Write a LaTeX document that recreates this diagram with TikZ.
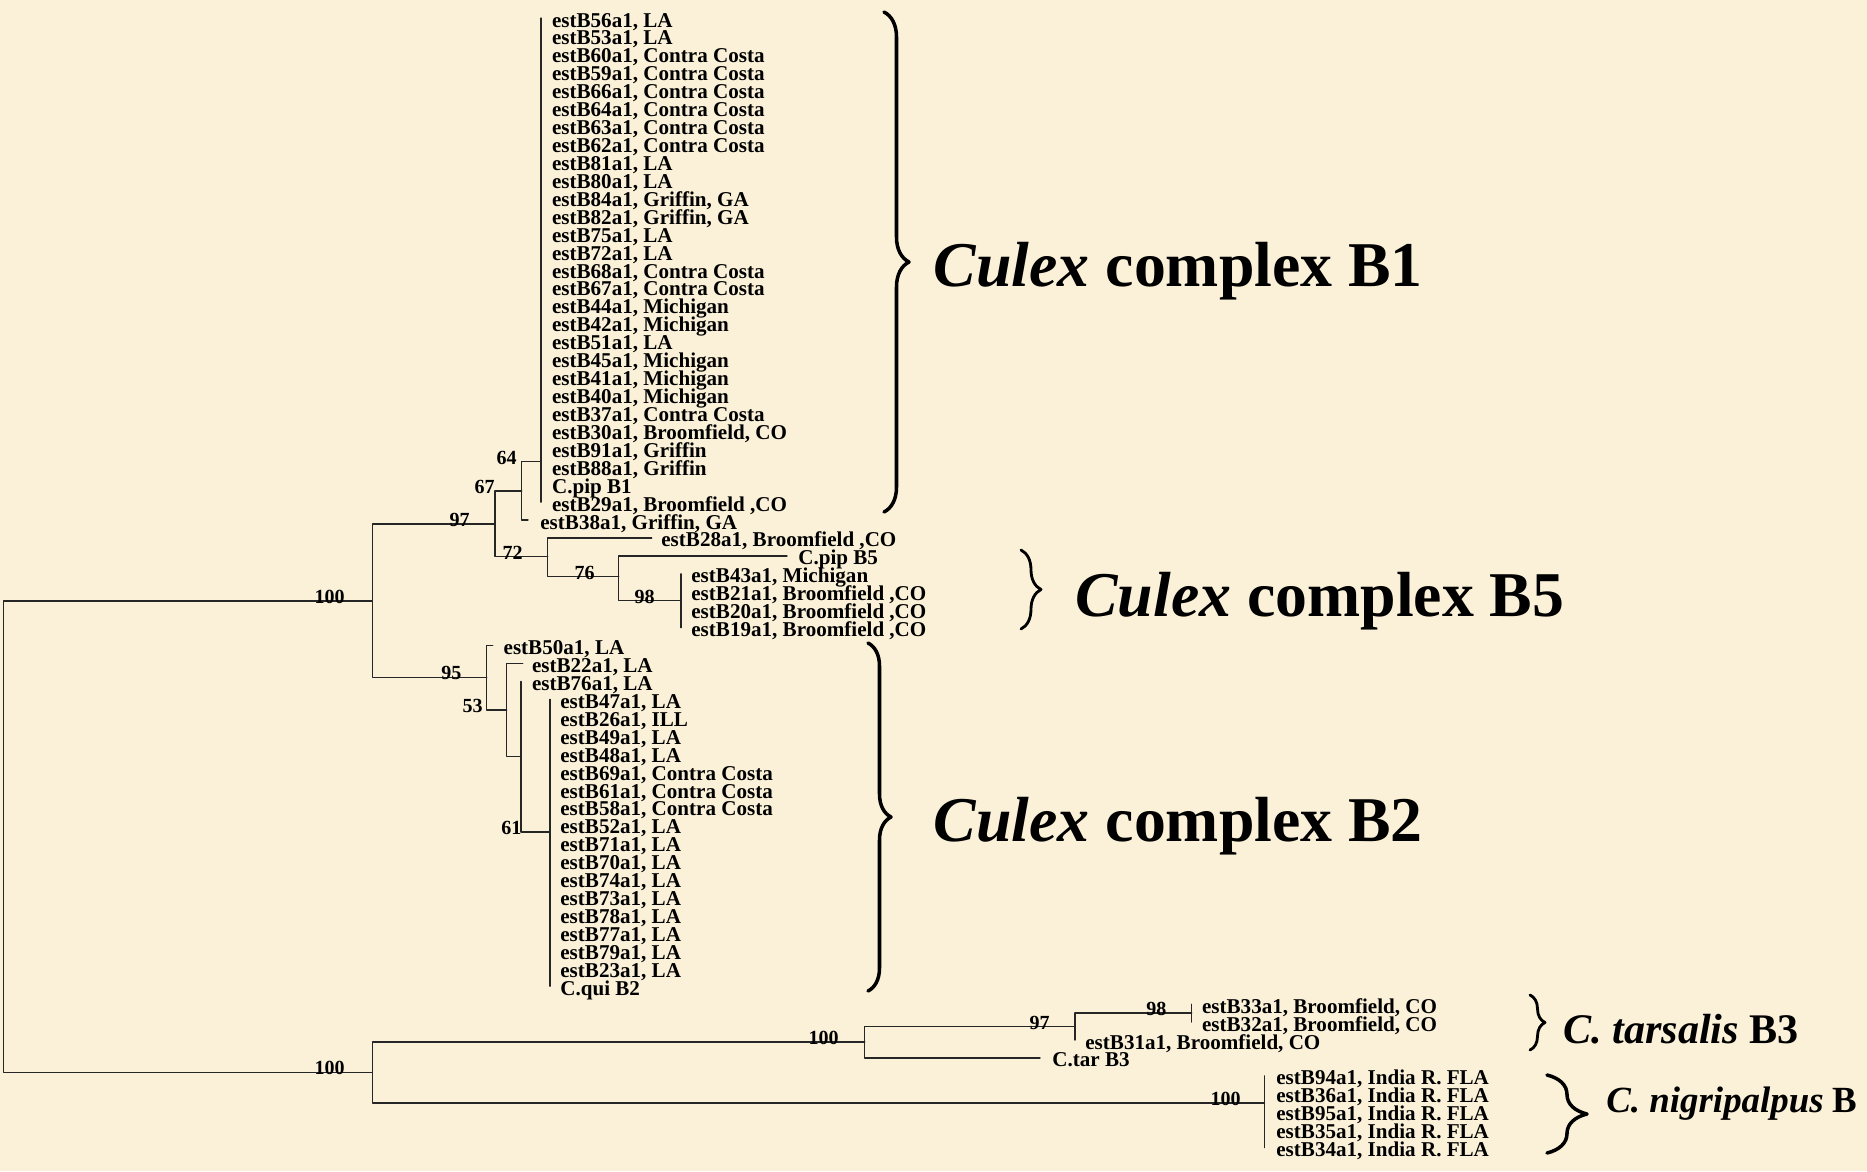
\documentclass[tikz,border=0pt]{standalone}
\usepackage{fontspec}
\setmainfont{Liberation Serif}
\usetikzlibrary{decorations.pathreplacing}
\definecolor{parchment}{RGB}{250,241,216}
\def\rowy#1{18+17.93*(#1)}

\begin{document}
\begin{tikzpicture}[x=0.02cm,y=-0.02cm,line cap=round,line join=round,
  branch/.style={draw=black!85,line width=.75pt},
  leaf/.style={anchor=base west,inner sep=0pt,font=\fontsize{12}{12}\selectfont\bfseries},
  boot/.style={anchor=base east,inner sep=0pt,font=\fontsize{11.4}{12}\selectfont\bfseries},
  clade/.style={anchor=base west,inner sep=0pt,font=\fontsize{36.3}{40}\selectfont\bfseries},
  cladesm/.style={anchor=base west,inner sep=0pt,font=\fontsize{24}{26}\selectfont\bfseries},
  cbrace/.style={decorate,decoration={brace,amplitude=#1},line width=2pt}]
\fill[parchment] (0,0) rectangle (1867,1171);
\path[use as bounding box] (0,0) rectangle (1867,1171);
% internal nodes
\coordinate (root) at (3.3,836.7);
\coordinate (nA) at (372.3,601);
\coordinate (nB) at (372.3,1072.3);
\coordinate (n97) at (495,524);
\coordinate (n95) at (486.7,677.3);
\coordinate (n67) at (521.7,491);
\coordinate (n72) at (547.7,556.7);
\coordinate (n64) at (541,461.7);
\coordinate (n76) at (618.7,576.7);
\coordinate (n98a) at (681,600.7);
\coordinate (n53) at (506.7,710);
\coordinate (n61p) at (521,756.7);
\coordinate (n61) at (550,832);
\coordinate (nTar) at (864.8,1042);
\coordinate (n97b) at (1075,1026.5);
\coordinate (n98b) at (1191.7,1013);
\coordinate (nNig) at (1264.5,1103);
\draw[branch] (root) |- (nA);
\draw[branch] (root) |- (nB);
\draw[branch] (nA) |- (n97);
\draw[branch] (nA) |- (n95);
\draw[branch] (n97) |- (n67);
\draw[branch] (n97) |- (n72);
\draw[branch] (n67) |- (n64);
\draw[branch] (n72) |- (n76);
\draw[branch] (n76) |- (n98a);
\draw[branch] (n95) |- (n53);
\draw[branch] (n53) |- (n61p);
\draw[branch] (n61p) |- (n61);
\draw[branch] (nB) |- (nTar);
\draw[branch] (nB) |- (nNig);
\draw[branch] (nTar) |- (n97b);
\draw[branch] (n97b) |- (n98b);
% leaves
\foreach \lab [count=\i from 0] in {{estB56a1, LA},{estB53a1, LA},{estB60a1, Contra Costa},{estB59a1, Contra Costa},
  {estB66a1, Contra Costa},{estB64a1, Contra Costa},{estB63a1, Contra Costa},{estB62a1, Contra Costa},
  {estB81a1, LA},{estB80a1, LA},{estB84a1, Griffin, GA},{estB82a1, Griffin, GA},{estB75a1, LA},{estB72a1, LA},
  {estB68a1, Contra Costa},{estB67a1, Contra Costa},{estB44a1, Michigan},{estB42a1, Michigan},{estB51a1, LA},
  {estB45a1, Michigan},{estB41a1, Michigan},{estB40a1, Michigan},{estB37a1, Contra Costa},
  {estB30a1, Broomfield, CO},{estB91a1, Griffin},{estB88a1, Griffin},{C.pip B1},{estB29a1, Broomfield ,CO}}{
  \coordinate (t\i) at (541,{\rowy{\i}});
  \node[leaf] (l\i) at (551.7,{\rowy{\i}+9}) {\lab};
  \draw[branch] (n64) |- (t\i);
}
\coordinate (t28) at (528,{\rowy{28}});
\node[leaf] (l28) at (540,{\rowy{28}+9}) {estB38a1, Griffin, GA};
\draw[branch] (n67) |- (t28);
\coordinate (t29) at (651.7,{\rowy{29}});
\node[leaf] (l29) at (661,{\rowy{29}+9}) {estB28a1, Broomfield ,CO};
\draw[branch] (n72) |- (t29);
\coordinate (t30) at (787,{\rowy{30}});
\node[leaf] (l30) at (798,{\rowy{30}+9}) {C.pip B5};
\draw[branch] (n76) |- (t30);
\foreach \lab [count=\i from 31] in {{estB43a1, Michigan},{estB21a1, Broomfield ,CO},{estB20a1, Broomfield ,CO},{estB19a1, Broomfield ,CO}}{
  \coordinate (t\i) at (681,{\rowy{\i}});
  \node[leaf] (l\i) at (691,{\rowy{\i}+9}) {\lab};
  \draw[branch] (n98a) |- (t\i);
}
\coordinate (t35) at (492.7,{\rowy{35}});
\node[leaf] (l35) at (503.3,{\rowy{35}+9}) {estB50a1, LA};
\draw[branch] (n95) |- (t35);
\coordinate (t36) at (522.7,{\rowy{36}});
\node[leaf] (l36) at (531.7,{\rowy{36}+9}) {estB22a1, LA};
\draw[branch] (n53) |- (t36);
\coordinate (t37) at (521,{\rowy{37}});
\node[leaf] (l37) at (531.7,{\rowy{37}+9}) {estB76a1, LA};
\draw[branch] (n61p) |- (t37);
\foreach \lab [count=\i from 38] in {{estB47a1, LA},{estB26a1, ILL},{estB49a1, LA},{estB48a1, LA},
  {estB69a1, Contra Costa},{estB61a1, Contra Costa},{estB58a1, Contra Costa},{estB52a1, LA},{estB71a1, LA},
  {estB70a1, LA},{estB74a1, LA},{estB73a1, LA},{estB78a1, LA},{estB77a1, LA},{estB79a1, LA},{estB23a1, LA},{C.qui B2}}{
  \coordinate (t\i) at (550,{\rowy{\i}});
  \node[leaf] (l\i) at (560,{\rowy{\i}+9}) {\lab};
  \draw[branch] (n61) |- (t\i);
}
\foreach \lab [count=\i from 55] in {{estB33a1, Broomfield, CO},{estB32a1, Broomfield, CO}}{
  \coordinate (t\i) at (1191.7,{\rowy{\i}});
  \node[leaf] (l\i) at (1201.7,{\rowy{\i}+9}) {\lab};
  \draw[branch] (n98b) |- (t\i);
}
\coordinate (t57) at (1075,{\rowy{57}});
\node[leaf] (l57) at (1085,{\rowy{57}+9}) {estB31a1, Broomfield, CO};
\draw[branch] (n97b) |- (t57);
\coordinate (t58) at (1040,{\rowy{58}});
\node[leaf] (l58) at (1052,{\rowy{58}+9}) {C.tar B3};
\draw[branch] (nTar) |- (t58);
\foreach \lab [count=\i from 59] in {{estB94a1, India R. FLA},{estB36a1, India R. FLA},{estB95a1, India R. FLA},{estB35a1, India R. FLA},{estB34a1, India R. FLA}}{
  \coordinate (t\i) at (1264.5,{\rowy{\i}});
  \node[leaf] (l\i) at (1276,{\rowy{\i}+9}) {\lab};
  \draw[branch] (nNig) |- (t\i);
}
% bootstrap values
\node[boot] (bA) at (345,603.5) {100};
\node[boot] (bB) at (345,1074.8) {100};
\node[boot] (b97) at (470,526.5) {97};
\node[boot] (b95) at (461.7,679.8) {95};
\node[boot] (b67) at (495,493.5) {67};
\node[boot] (b72) at (523,559.2) {72};
\node[boot] (b64) at (517,464.2) {64};
\node[boot] (b76) at (595,579.2) {76};
\node[boot] (b98a) at (655,603.2) {98};
\node[boot] (b53) at (483,712.5) {53};
\node[boot] (b61) at (521.7,834.5) {61};
\node[boot] (bTar) at (839,1044.5) {100};
\node[boot] (b97b) at (1050,1029) {97};
\node[boot] (b98b) at (1166.7,1015.5) {98};
\node[boot] (bNig) at (1241,1105.5) {100};
% clade braces and names
\draw[cbrace=0.5cm] (884,12) -- (884,512);
\draw[cbrace=0.4cm,line width=1.6pt] (1021,550) -- (1021,629);
\draw[cbrace=0.46cm] (868,643) -- (868,991);
\draw[cbrace=0.3cm,line width=1.6pt] (1530,995) -- (1530,1050);
\draw[cbrace=0.8cm] (1547,1075) -- (1547,1153);
\node[clade] (cB1) at (933.5,286) {\textit{Culex} complex B1};
\node[clade] (cB5) at (1075,616) {\textit{Culex} complex B5};
\node[clade] (cB2) at (933.5,841) {\textit{Culex} complex B2};
\node[cladesm] (cB3) at (1563,1043) {\textit{C. tarsalis} B3};
\node[cladesm,font=\fontsize{21}{24}\selectfont\bfseries] (cB4) at (1606,1112) {\textit{C. nigripalpus} B};
\end{tikzpicture}
\end{document}
